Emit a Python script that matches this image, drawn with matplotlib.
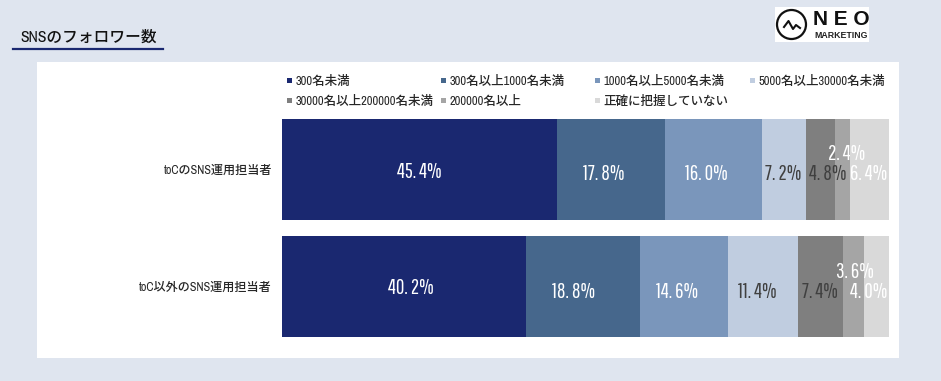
import matplotlib
matplotlib.use('Agg')
import matplotlib.pyplot as plt
from matplotlib.patches import Rectangle, Circle
from matplotlib.lines import Line2D

# narrow latin faces, kanji comes from the next family in the list
TEXT_FONT = ['Archivo Narrow', 'Liberation Sans', 'Noto Sans CJK JP', 'DejaVu Sans']
VALUE_FONT = ['Pathway Gothic One', 'Liberation Sans', 'DejaVu Sans']
LOGO_FONT = ['Liberation Sans', 'DejaVu Sans']
plt.rcParams['font.family'] = TEXT_FONT

W, H = 941, 381

groups = ['toCのSNS運用担当者', 'toC以外のSNS運用担当者']
series_names = ['300名未満', '300名以上1000名未満', '1000名以上5000名未満', '5000名以上30000名未満',
                '30000名以上200000名未満', '200000名以上', '正確に把握していない']
row_toc = [45.4, 17.8, 16.0, 7.2, 4.8, 2.4, 6.4]
row_other = [40.2, 18.8, 14.6, 11.4, 7.4, 3.6, 4.0]
colors = ['#1a2870', '#46678c', '#7a96bb', '#c0cde0', '#7f7f7f', '#a5a5a5', '#d9d9d9']
label_colors = ['white', 'white', 'white', '#404040', '#404040', 'white', 'white']

# label nudges in pixels, the original labels are not centred in their segments
nudge_x = [[0, -8, -8, -1, 7, 4, -1], [7, -9, -7, -6, 0, 1, -8]]
nudge_y = [[3, 5, 5, 4, 4, -16, 4], [2, 5, 5, 6, 6, -14, 6]]

fig = plt.figure(figsize=(W / 100, H / 100), dpi=100, facecolor='#dfe5ef')

# whole figure overlay in pixel coordinates, for panel, title, logo
bg = fig.add_axes([0, 0, 1, 1])
bg.set_xlim(0, W)
bg.set_ylim(H, 0)
bg.axis('off')
bg.add_patch(Rectangle((37, 62), 862, 296, color='white', lw=0))
bg.text(20, 37.5, 'SNSのフォロワー数', fontsize=11.3, color='#111111', va='center', ha='left', fontweight='medium')
bg.add_line(Line2D([13, 163], [49, 49], color='#1a2870', lw=1.6))

# logo
bg.add_patch(Rectangle((775, 7), 94, 35, color='white', lw=0))
bg.add_patch(Circle((791.5, 24.5), 14.5, fill=False, ec='#111111', lw=1.6))
bg.plot([784, 788.5, 793, 796, 800], [27, 21, 29, 25, 28], color='#111111', lw=1.5)
bg.text(841, 19.5, 'N E O', fontsize=15, fontweight='bold', color='#111111', ha='center', va='center',
        family=LOGO_FONT)
bg.text(841, 36, 'MARKETING', fontsize=6.3, fontweight='bold', color='#222222', ha='center', va='center',
        family=LOGO_FONT)

# legend
legend_x = [287, 441, 595, 750, 287, 441, 595]
legend_y = [80.7, 80.7, 80.7, 80.7, 100.7, 100.7, 100.7]
for name, c, lx, ly in zip(series_names, colors, legend_x, legend_y):
    bg.add_patch(Rectangle((lx, ly - 2.5), 5, 5, color=c, lw=0))
    bg.text(lx + 8.5, ly, name, fontsize=9, color='#262626', va='center', ha='left', fontweight='medium')

# chart, two rows 117 px apart and 101 px tall
ax = fig.add_axes([281.7 / W, 1 - 345 / H, 607 / W, 234 / H])
ax.patch.set_alpha(0)
rows = [row_toc, row_other]
ypos = [0, 1]
left = [0, 0]
for i in range(len(series_names)):
    vals = [r[i] for r in rows]
    ax.barh(ypos, vals, left=left, height=101 / 117, color=colors[i], lw=0)
    for j in ypos:
        lx = left[j] + vals[j] / 2 + nudge_x[j][i] / 6.07
        ly = j + nudge_y[j][i] / 117
        ax.text(lx, ly, f'{vals[j]:.1f}%'.replace('.', '. '), color=label_colors[i],
                fontsize=15, ha='center', va='center', family=VALUE_FONT)
    left = [a + b for a, b in zip(left, vals)]
ax.set_xlim(0, 100)
ax.set_ylim(1.5, -0.5)
ax.set_xticks([])
ax.set_yticks(ypos)
ax.set_yticklabels(groups, fontsize=8.7, color='#262626', fontweight='medium')
ax.tick_params(axis='y', length=0, pad=7)
for s in ax.spines.values():
    s.set_visible(False)

fig.savefig('out.png', dpi=100)
